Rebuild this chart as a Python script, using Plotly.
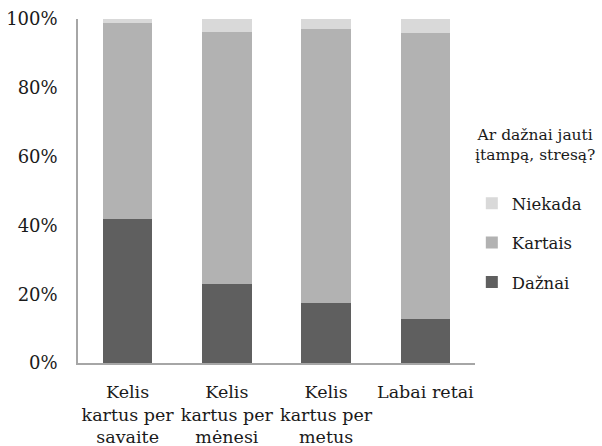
import plotly.graph_objects as go

categories = ["Kelis<br>kartus per<br>savaite", "Kelis<br>kartus per<br>mėnesi",
              "Kelis<br>kartus per<br>metus", "Labai retai"]
daznai = [41.9, 23.0, 17.3, 12.9]
kartais = [57.0, 73.1, 79.7, 83.1]
niekada = [1.1, 3.9, 3.0, 4.0]
series_names = ["Dažnai", "Kartais", "Niekada"]
series_colors = ["#5f5f5f", "#b2b2b2", "#d9d9d9"]
legend_ranks = [3, 2, 1]
tick_vals = [0, 20, 40, 60, 80, 100]
tick_text = ["0%", "20%", "40%", "60%", "80%", "100%"]
legend_title = "Ar dažnai jauti<br>įtampą, stresą?"

FONT = "DejaVu Serif"

fig = go.Figure()
for name, vals, col, rk in zip(series_names, [daznai, kartais, niekada], series_colors, legend_ranks):
    fig.add_trace(go.Bar(x=categories, y=vals, name=name, legendgroup=name, legendrank=rk,
                         marker=dict(color=col, line=dict(width=0))))

fig.update_layout(
    width=602, height=446,
    barmode="stack", bargap=0.5,
    plot_bgcolor="white", paper_bgcolor="white",
    margin=dict(l=78, r=127, t=19, b=83),
    font=dict(family=FONT, size=16, color="#1a1a1a"),
    showlegend=True,
    legend=dict(
        traceorder="grouped", tracegroupgap=15,
        x=0.992, xanchor="left", y=0.349, yanchor="middle",
        font=dict(family=FONT, size=16.5),
        itemwidth=30,
    ),
    annotations=[dict(text=legend_title, xref="paper", yref="paper", x=1.15, y=0.573,
                      xanchor="center", yanchor="bottom", showarrow=False,
                      font=dict(family=FONT, size=15.5, color="#1a1a1a"))],
    xaxis=dict(showline=True, linecolor="#a6a6a6", linewidth=1.5, ticks="", automargin=False,
               tickangle=0, ticklabelstandoff=12, tickfont=dict(family=FONT, size=17.5),
               showgrid=False),
    yaxis=dict(range=[0, 100], tickvals=tick_vals, ticktext=tick_text, showline=True,
               automargin=False,
               linecolor="#a6a6a6", linewidth=1.5, showgrid=False, zeroline=False,
               ticks="", ticklabelstandoff=15, tickfont=dict(family=FONT, size=18)),
)

fig.write_html("out.html", config={"displayModeBar": False},
               post_script="document.body.style.margin='0';document.body.style.padding='0';")
